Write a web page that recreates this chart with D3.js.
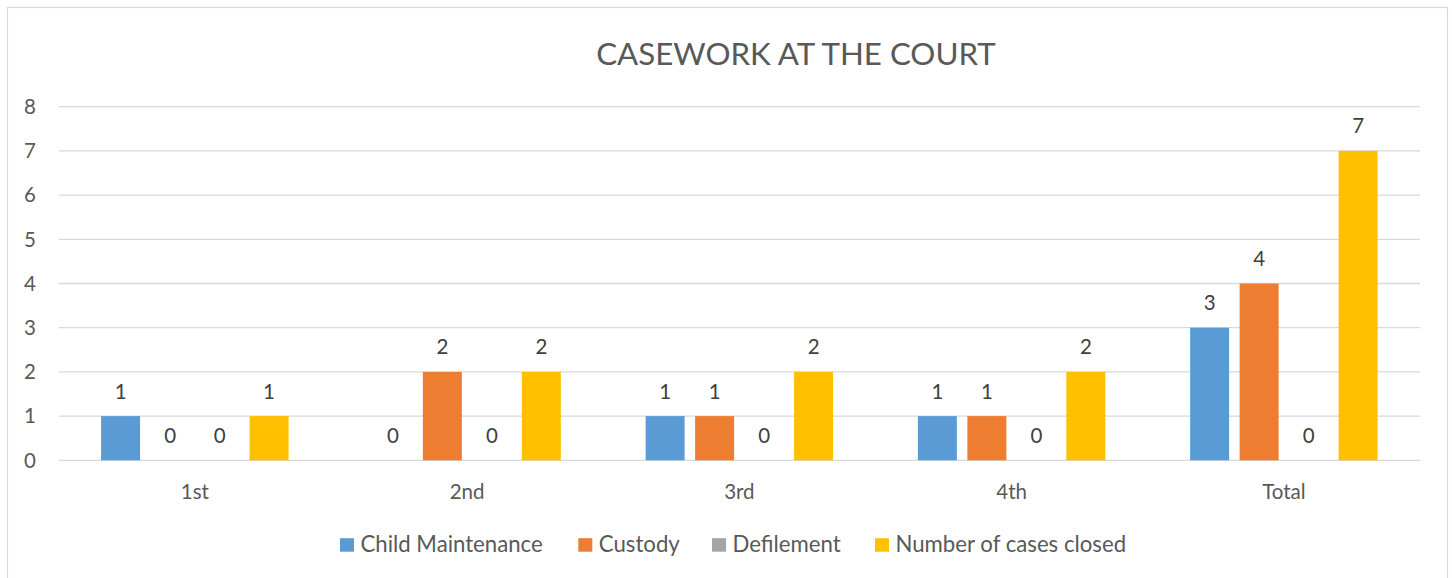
<!DOCTYPE html>
<html>
<head>
<meta charset="utf-8">
<script src="https://cdn.jsdelivr.net/npm/d3@7"></script>
<style>
  body { margin: 0; background: #fff; }
  svg { display: block; font-family: Lato, "Open Sans", sans-serif; }
</style>
</head>
<body>
<svg id="chart" width="1452" height="578"></svg>
<script>
// chart data
const categories = ['1st', '2nd', '3rd', '4th', 'Total'];
const seriesNames = ['Child Maintenance', 'Custody', 'Defilement', 'Number of cases closed'];
const childMaintenance = [1, 0, 1, 1, 3];
const custody = [0, 2, 1, 1, 4];
const defilement = [0, 0, 0, 0, 0];
const casesClosed = [1, 2, 2, 2, 7];
const yTicks = [0, 1, 2, 3, 4, 5, 6, 7, 8];
const colors = ['#5b9bd5', '#ed7d31', '#a5a5a5', '#ffc000'];

const seriesValues = [childMaintenance, custody, defilement, casesClosed];

const svg = d3.select('#chart');
const width = 1452, height = 578;
const margin = { left: 58.7, right: 32, top: 106.7, bottom: 117.7 };

// outer chart border
svg.append('rect')
   .attr('x', 7.5).attr('y', 7.5)
   .attr('width', 1440).attr('height', 580)
   .attr('fill', '#fff')
   .attr('stroke', '#d9d9d9').attr('stroke-width', 1.2);

// title
svg.append('text')
   .attr('x', 796).attr('y', 65)
   .attr('text-anchor', 'middle')
   .attr('fill', '#595959')
   .style('font-size', '31.3px')
   .text('CASEWORK AT THE COURT');

// scales
const x = d3.scaleBand()
  .domain(categories)
  .range([margin.left, width - margin.right]);

const y = d3.scaleLinear()
  .domain([0, 8])
  .range([height - margin.bottom, margin.top]);

const barStep = x.bandwidth() * 49.5 / 272.3;
const barWidth = x.bandwidth() * 39 / 272.3;
const inner = d3.scaleBand()
  .domain(seriesNames)
  .range([x.bandwidth() / 2 - 2 * barStep, x.bandwidth() / 2 + 2 * barStep]);

// gridlines
svg.append('g')
   .selectAll('line')
   .data(yTicks)
   .enter()
   .append('line')
   .attr('x1', margin.left).attr('x2', width - margin.right)
   .attr('y1', d => y(d)).attr('y2', d => y(d))
   .attr('stroke', '#d9d9d9').attr('stroke-width', 1.3);

// y tick labels
svg.append('g')
   .selectAll('text')
   .data(yTicks)
   .enter()
   .append('text')
   .attr('x', 30).attr('y', d => y(d) + 7.3)
   .attr('text-anchor', 'middle')
   .attr('fill', '#595959')
   .style('font-size', '20.5px')
   .text(d => d);

// x category labels
svg.append('g')
   .selectAll('text')
   .data(categories)
   .enter()
   .append('text')
   .attr('x', d => x(d) + x.bandwidth() / 2)
   .attr('y', y(0) + 39)
   .attr('text-anchor', 'middle')
   .attr('fill', '#595959')
   .style('font-size', '20.5px')
   .text(d => d);

// bars and value labels
const rows = [];
categories.forEach((c, i) => {
  seriesNames.forEach((s, j) => {
    rows.push({ cat: c, series: s, value: seriesValues[j][i], color: colors[j] });
  });
});

const barX = d => x(d.cat) + inner(d.series) + (inner.bandwidth() - barWidth) / 2;

svg.append('g')
   .selectAll('rect')
   .data(rows.filter(d => d.value > 0))
   .enter()
   .append('rect')
   .attr('x', barX)
   .attr('y', d => y(d.value))
   .attr('width', barWidth)
   .attr('height', d => y(0) - y(d.value))
   .attr('fill', d => d.color);

svg.append('g')
   .selectAll('text')
   .data(rows)
   .enter()
   .append('text')
   .attr('x', d => barX(d) + barWidth / 2)
   .attr('y', d => y(d.value) - 17.5)
   .attr('text-anchor', 'middle')
   .attr('fill', '#404040')
   .style('font-size', '20.5px')
   .text(d => d.value);

// legend
const legendX = [340, 578.3, 712, 875];
const legend = svg.append('g')
   .selectAll('g')
   .data(seriesNames)
   .enter()
   .append('g')
   .attr('transform', (d, i) => `translate(${legendX[i]},551.7)`);

legend.append('rect')
   .attr('x', 0).attr('y', -13.5)
   .attr('width', 14).attr('height', 13.5)
   .attr('fill', (d, i) => colors[i]);

legend.append('text')
   .attr('x', 20.5).attr('y', 0)
   .attr('fill', '#595959')
   .style('font-size', '22.2px')
   .text(d => d);
</script>
</body>
</html>
